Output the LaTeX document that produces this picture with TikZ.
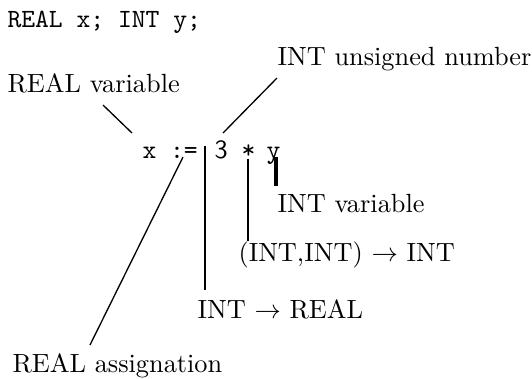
\documentclass[tikz,border=0pt]{standalone}
\usepackage{amsmath, amssymb}
\usepackage{tikz}
\usetikzlibrary{positioning, calc}

\begin{document}
\begin{tikzpicture}[
  x = 0.38pt, y = -0.38pt,
  code/.style  = {font=\ttfamily, anchor=base west, inner sep=0pt},
  note/.style  = {anchor=base west, inner sep=0pt},
  link/.style  = {line width=0.5pt},
  bar/.style   = {line width=0.75pt},
  thickbar/.style = {line width=1.2pt}
]
\useasboundingbox (0,0) rectangle (532,378);

\node[code] (decl)    at (7,27)    {REAL x; INT y;};
\node[note] (realvar) at (7,92)    {REAL variable};
\node[note] (intnum)  at (277,65)  {INT unsigned number};

\node[code] (xv)      at (142,158) {x};
\node[code] (assign)  at (169.5,158) {:=};
\node[code] (three)   at (214,158) {\sffamily 3};
\node[code] (star)    at (241,158) {*};
\node[code] (yv)      at (266,158) {y};

\node[note] (intvar)  at (277,212) {INT variable};
\node[note] (intint)  at (238,261) {(INT,INT) $\rightarrow$ INT};
\node[note] (toreal)  at (197,318) {INT $\rightarrow$ REAL};
\node[note] (realas)  at (12,372)  {REAL assignation};

% free ends of the connectors
\coordinate (rv-a) at (103,105);
\coordinate (rv-b) at (132,133);
\coordinate (in-a) at (277,78);
\coordinate (in-b) at (223,133);
\coordinate (as-a) at (183,157);
\coordinate (as-b) at (90,345);
\coordinate (cv-a) at (205,146);
\coordinate (cv-b) at (205,290);
\coordinate (yv-a) at (276,157);
\coordinate (yv-b) at (276,186);

\draw[link] (rv-a) -- (rv-b);
\draw[link] (in-a) -- (in-b);
\draw[link] (as-a) -- (as-b);
\draw[bar]  (cv-a) -- (cv-b);
\draw[bar]  (star.south) -- (star.south |- intint.north);
\draw[thickbar] (yv-a) -- (yv-b);

\end{tikzpicture}
\end{document}
